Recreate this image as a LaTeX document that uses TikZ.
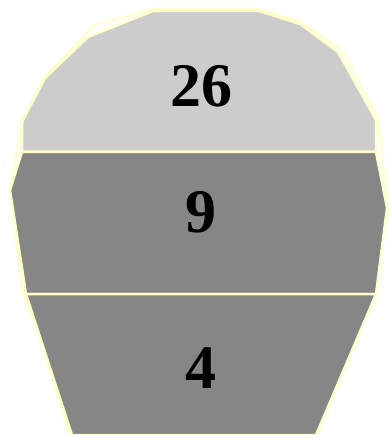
\documentclass[tikz,border=0pt]{standalone}
\usepackage{fontspec}
\setmainfont{Liberation Serif}
\usetikzlibrary{positioning}
\definecolor{hdTop}{HTML}{CCCCCC}
\definecolor{hdLow}{HTML}{868686}
\definecolor{hdEdge}{HTML}{FFFFCC}
\tikzset{
  band/.style={draw=hdEdge, line width=2.5pt, line join=round},
  topband/.style={band, fill=hdTop},
  lowband/.style={band, fill=hdLow},
  outline/.style={draw=hdEdge, line width=2pt, line join=round},
  count/.style={font=\fontsize{62}{62}\selectfont\bfseries, inner sep=0pt}
}
\begin{document}
\begin{tikzpicture}[x=1pt, y=-1pt]
  \useasboundingbox (0,0) rectangle (388,435);
  % outer outline of the head
  \draw[outline] (95,25) -- (153,9) -- (259,9) -- (301,22) -- (342,50) -- (378,117)
    -- (388,210) -- (378,265) -- (357,305) -- (318,435) -- (70,435)
    -- (37,330) -- (22,290) -- (10,190) -- (22,120) -- (45,76) -- cycle;
  % the three bands
  \draw[topband] (22,152) -- (22,122) -- (45,78) -- (88,37) -- (153,11) -- (259,11)
    -- (300,24) -- (338,52) -- (376,120) -- (376,152) -- cycle;
  \draw[lowband] (22,152) -- (376,152) -- (387,208) -- (376,294) -- (26,294)
    -- (10,190) -- cycle;
  \draw[lowband] (26,294) -- (376,294) -- (316,435) -- (72,435) -- cycle;
  % numbers
  \node[count] (top) at (201,86) {26};
  \node[count] (mid) at (201,212) {9};
  \node[count] (low) at (201,368) {4};
\end{tikzpicture}
\end{document}
